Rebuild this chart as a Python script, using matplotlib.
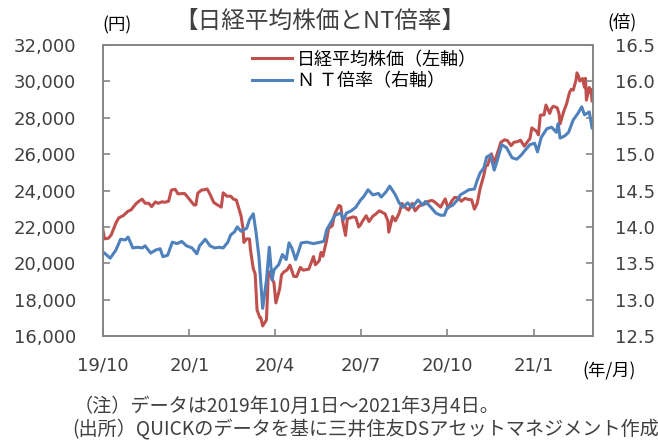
import matplotlib
matplotlib.use("Agg")
import matplotlib.pyplot as plt
import pandas as pd
from matplotlib.ticker import FuncFormatter, MultipleLocator

# ---------------- data ----------------
nk_dates = [
    "2019-10-01", "2019-10-03", "2019-10-07", "2019-10-10", "2019-10-15", "2019-10-18", "2019-10-23",
    "2019-10-28", "2019-10-31", "2019-11-05", "2019-11-08", "2019-11-12", "2019-11-15", "2019-11-19",
    "2019-11-22", "2019-11-26", "2019-11-29", "2019-12-03", "2019-12-06", "2019-12-10", "2019-12-13",
    "2019-12-17", "2019-12-20", "2019-12-24", "2019-12-27", "2019-12-30",
    "2020-01-06", "2020-01-08", "2020-01-10", "2020-01-14", "2020-01-17", "2020-01-20", "2020-01-23",
    "2020-01-27", "2020-01-31", "2020-02-04", "2020-02-06", "2020-02-10", "2020-02-14", "2020-02-17",
    "2020-02-20", "2020-02-25", "2020-02-27", "2020-02-28", "2020-03-02", "2020-03-05", "2020-03-06",
    "2020-03-09", "2020-03-11", "2020-03-13", "2020-03-16", "2020-03-17", "2020-03-19", "2020-03-23",
    "2020-03-24", "2020-03-25", "2020-03-27", "2020-03-31", "2020-04-02", "2020-04-06", "2020-04-08",
    "2020-04-10", "2020-04-14", "2020-04-17", "2020-04-21", "2020-04-24", "2020-04-28", "2020-05-01",
    "2020-05-07", "2020-05-12", "2020-05-14", "2020-05-18", "2020-05-20", "2020-05-22", "2020-05-26",
    "2020-05-28", "2020-06-01", "2020-06-03", "2020-06-05", "2020-06-08", "2020-06-10", "2020-06-12",
    "2020-06-15", "2020-06-17", "2020-06-19", "2020-06-23", "2020-06-26", "2020-06-29", "2020-07-01",
    "2020-07-03", "2020-07-07", "2020-07-10", "2020-07-14", "2020-07-17", "2020-07-21", "2020-07-27",
    "2020-07-30", "2020-07-31", "2020-08-04", "2020-08-07", "2020-08-11", "2020-08-14", "2020-08-18",
    "2020-08-21", "2020-08-25", "2020-08-28", "2020-09-01", "2020-09-04", "2020-09-08", "2020-09-11",
    "2020-09-15", "2020-09-18", "2020-09-24", "2020-09-29", "2020-10-02", "2020-10-06", "2020-10-09",
    "2020-10-13", "2020-10-16", "2020-10-20", "2020-10-23", "2020-10-27", "2020-10-30", "2020-11-02",
    "2020-11-05", "2020-11-09", "2020-11-11", "2020-11-13", "2020-11-17", "2020-11-20", "2020-11-25",
    "2020-11-27", "2020-12-01", "2020-12-04", "2020-12-08", "2020-12-11", "2020-12-15", "2020-12-18",
    "2020-12-22", "2020-12-25", "2020-12-28", "2020-12-30",
    "2021-01-04", "2021-01-06", "2021-01-08", "2021-01-12", "2021-01-14", "2021-01-18", "2021-01-20",
    "2021-01-22", "2021-01-26", "2021-01-28", "2021-01-29", "2021-02-02", "2021-02-05", "2021-02-08",
    "2021-02-10", "2021-02-12", "2021-02-15", "2021-02-16", "2021-02-18", "2021-02-19", "2021-02-22",
    "2021-02-24", "2021-02-25", "2021-02-26", "2021-03-01", "2021-03-02", "2021-03-03", "2021-03-04",
]
nikkei = [
    21885, 21341, 21375, 21551, 22207, 22492, 22625,
    22867, 22927, 23251, 23392, 23520, 23303, 23293,
    23113, 23373, 23294, 23380, 23354, 23410, 24023,
    24066, 23816, 23830, 23837, 23657,
    23205, 23204, 23850, 24025, 24041, 24083, 23795,
    23344, 23205, 23085, 23873, 23686, 23688, 23523,
    23479, 22605, 21948, 21143, 21344, 21329, 20750,
    19699, 19416, 17431, 17002, 17012, 16553, 16887,
    18092, 19546, 19389, 18917, 17819, 18576, 19353,
    19499, 19639, 19897, 19281, 19262, 19772, 19619,
    19675, 20366, 19915, 20133, 20596, 20388, 21272,
    21916, 22062, 22614, 22863, 23178, 23125, 22305,
    21531, 22456, 22478, 22549, 22512, 21995, 22122,
    22306, 22614, 22291, 22587, 22696, 22884, 22716,
    22339, 21710, 22574, 22329, 22750, 23289, 23051,
    22921, 23296, 22882, 23138, 23205, 23274, 23406,
    23455, 23360, 23087, 23540, 23030, 23434, 23620,
    23601, 23411, 23568, 23517, 23485, 22977, 23295,
    24105, 24839, 25350, 25385, 26014, 25527, 26297,
    26644, 26787, 26751, 26467, 26652, 26688, 26763,
    26436, 26656, 26854, 27444,
    27258, 27056, 28139, 28164, 28699, 28242, 28523,
    28631, 28546, 28198, 27663, 28362, 28779, 29388,
    29563, 29520, 30084, 30467, 30236, 30018, 30156,
    29672, 30168, 28966, 29664, 29408, 29559, 28930,
]

nt_dates = [
    "2019-10-01", "2019-10-09", "2019-10-15", "2019-10-20", "2019-10-25", "2019-10-28", "2019-11-02",
    "2019-11-07", "2019-11-12", "2019-11-15", "2019-11-21", "2019-11-26", "2019-12-01", "2019-12-04",
    "2019-12-09", "2019-12-14", "2019-12-19", "2019-12-24", "2019-12-29",
    "2020-01-04", "2020-01-09", "2020-01-12", "2020-01-18", "2020-01-23", "2020-01-28", "2020-02-02",
    "2020-02-06", "2020-02-11", "2020-02-14", "2020-02-18", "2020-02-21", "2020-02-25", "2020-03-02",
    "2020-03-05", "2020-03-09", "2020-03-12", "2020-03-15", "2020-03-19", "2020-03-23", "2020-03-26",
    "2020-03-29", "2020-03-31", "2020-04-05", "2020-04-09", "2020-04-13", "2020-04-16", "2020-04-19",
    "2020-04-23", "2020-04-26", "2020-04-29", "2020-05-05", "2020-05-12", "2020-05-23", "2020-05-26",
    "2020-05-30", "2020-06-04", "2020-06-10", "2020-06-13", "2020-06-16", "2020-06-21", "2020-06-26",
    "2020-07-01", "2020-07-04", "2020-07-09", "2020-07-14", "2020-07-20", "2020-07-23", "2020-07-28",
    "2020-08-01", "2020-08-07", "2020-08-11", "2020-08-15", "2020-08-20", "2020-08-25", "2020-08-31",
    "2020-09-05", "2020-09-08", "2020-09-13", "2020-09-19", "2020-09-24", "2020-09-28", "2020-10-01",
    "2020-10-07", "2020-10-12", "2020-10-15", "2020-10-19", "2020-10-24", "2020-10-30", "2020-11-02",
    "2020-11-05", "2020-11-09", "2020-11-12", "2020-11-16", "2020-11-20", "2020-11-23", "2020-11-28",
    "2020-12-03", "2020-12-09", "2020-12-14", "2020-12-19", "2020-12-22", "2020-12-28",
    "2021-01-02", "2021-01-05", "2021-01-09", "2021-01-15", "2021-01-20", "2021-01-25", "2021-01-27",
    "2021-01-29", "2021-02-03", "2021-02-07", "2021-02-12", "2021-02-17", "2021-02-21", "2021-02-24",
    "2021-03-01", "2021-03-04",
]
nt_ratio = [
    13.66, 13.57, 13.68, 13.83, 13.82, 13.86, 13.71,
    13.72, 13.71, 13.74, 13.64, 13.68, 13.70, 13.59,
    13.61, 13.79, 13.77, 13.80, 13.74,
    13.71, 13.63, 13.74, 13.83, 13.74, 13.71, 13.72,
    13.71, 13.79, 13.89, 13.93, 14.00, 13.94, 13.98,
    14.10, 14.18, 13.92, 13.59, 12.88, 13.27, 13.72,
    13.27, 13.41, 13.48, 13.62, 13.55, 13.78, 13.71,
    13.55, 13.66, 13.78, 13.79, 13.77, 13.80, 13.96,
    14.05, 14.16, 14.19, 14.10, 14.19, 14.22, 14.27,
    14.37, 14.41, 14.51, 14.44, 14.46, 14.41, 14.48,
    14.56, 14.44, 14.33, 14.27, 14.33, 14.27, 14.37,
    14.30, 14.35, 14.28, 14.19, 14.16, 14.16, 14.26,
    14.30, 14.37, 14.44, 14.47, 14.51, 14.52, 14.64,
    14.74, 14.81, 14.96, 14.99, 14.78, 14.90, 15.13,
    15.09, 14.95, 14.93, 14.99, 15.04, 15.13,
    15.15, 15.03, 15.23, 15.35, 15.37, 15.30, 15.42,
    15.22, 15.25, 15.30, 15.47, 15.56, 15.65, 15.54,
    15.58, 15.36,
]

x_tick_dates = ["2019-10-01", "2020-01-01", "2020-04-01", "2020-07-01", "2020-10-01", "2021-01-01"]
x_tick_labels = ["19/10", "20/1", "20/4", "20/7", "20/10", "21/1"]

title_text = "【日経平均株価とNT倍率】"
legend_labels = ["日経平均株価（左軸）", "Ｎ Ｔ倍率（右軸）"]
note_lines = ["（注）データは2019年10月1日～2021年3月4日。",
              "(出所）QUICKのデータを基に三井住友DSアセットマネジメント作成"]

# ---------------- style ----------------
JP = ["Noto Sans CJK JP", "DejaVu Sans"]
TXT = "#404040"
SPINE = "#868686"
RED = "#C0504D"
BLUE = "#4F81BD"
plt.rcParams["font.family"] = ["DejaVu Sans", "Noto Sans CJK JP"]

W, H = 658, 444
fig = plt.figure(figsize=(W / 100, H / 100), dpi=100)
L, R, T, B = 102.7, 593, 45, 336
ax = fig.add_axes([L / W, 1 - B / H, (R - L) / W, (B - T) / H])
ax2 = ax.twinx()

d_nk = pd.to_datetime(nk_dates)
d_nt = pd.to_datetime(nt_dates)
l1, = ax.plot(d_nk, nikkei, color=RED, lw=2.2, solid_joinstyle="round")
l2, = ax2.plot(d_nt, nt_ratio, color=BLUE, lw=2.2, solid_joinstyle="round")

ax.set_xlim(pd.Timestamp("2019-10-01"), pd.Timestamp("2021-03-05"))
ax.set_ylim(16000, 32000)
ax2.set_ylim(12.5, 16.5)
ax.yaxis.set_major_locator(MultipleLocator(2000))
ax2.yaxis.set_major_locator(MultipleLocator(0.5))
ax.yaxis.set_major_formatter(FuncFormatter(lambda v, p: f"{int(v):,}"))
ax2.yaxis.set_major_formatter(FuncFormatter(lambda v, p: f"{v:.1f}"))
ax.set_xticks(pd.to_datetime(x_tick_dates))
ax.set_xticklabels(x_tick_labels)

for a in (ax, ax2):
    for s in a.spines.values():
        s.set_color(SPINE)
        s.set_linewidth(1.3)
ax.tick_params(axis="y", direction="in", length=5, width=1.2, color=SPINE,
               labelsize=13, labelcolor=TXT, pad=19)
ax2.tick_params(axis="y", direction="in", length=5, width=1.2, color=SPINE,
                labelsize=13, labelcolor=TXT, pad=16)
ax.tick_params(axis="x", direction="in", length=5, width=1.2, color=SPINE,
               labelsize=13, labelcolor=TXT, pad=15)

# legend
leg = ax2.legend([l1, l2], legend_labels, loc="upper left",
                 bbox_to_anchor=(250 / W, 1 - 49 / H), bbox_transform=fig.transFigure,
                 frameon=False, prop={"family": JP, "size": 13}, handlelength=2.2,
                 handletextpad=0.3, labelspacing=0.2, borderaxespad=0, borderpad=0.1)
for t in leg.get_texts():
    t.set_color("#000000")

# texts
fig.text(320 / W, 1 - 21 / H, title_text, ha="center", va="center", fontsize=17,
         color=TXT, family=JP)
fig.text(117 / W, 1 - 25 / H, "(円)", ha="center", va="center", fontsize=12.5,
         color="#000000", family=JP)
fig.text(622 / W, 1 - 22 / H, "(倍)", ha="center", va="center", fontsize=12.5,
         color="#000000", family=JP)
fig.text(609 / W, 1 - 371 / H, "(年/月)", ha="center", va="center", fontsize=12.5,
         color="#000000", family=JP)
fig.text(74 / W, 1 - 406 / H, note_lines[0], ha="left", va="center", fontsize=13.8,
         color=TXT, family=JP)
fig.text(72 / W, 1 - 429 / H, note_lines[1], ha="left", va="center", fontsize=13.8,
         color=TXT, family=JP)

fig.savefig("out.png", dpi=100)
